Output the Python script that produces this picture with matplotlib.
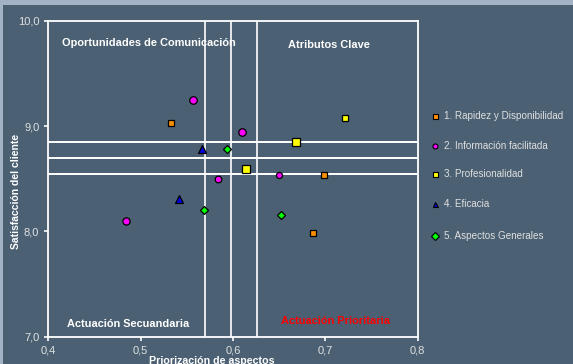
import matplotlib
matplotlib.use("Agg")
import matplotlib.pyplot as plt
from matplotlib.lines import Line2D

plt.rcParams['font.family'] = ['Liberation Sans', 'DejaVu Sans']

# Data: (priorización, satisfacción) per attribute group
series_names = ["1. Rapidez y Disponibilidad", "2. Información facilitada",
                "3. Profesionalidad", "4. Eficacia", "5. Aspectos Generales"]
rapidez_x = [0.533, 0.699, 0.687]
rapidez_y = [9.03, 8.54, 7.98]
informacion_x = [0.557, 0.610, 0.584, 0.650, 0.484]
informacion_y = [9.25, 8.94, 8.50, 8.54, 8.10]
profesionalidad_x = [0.721, 0.668, 0.614]
profesionalidad_y = [9.08, 8.85, 8.59]
eficacia_x = [0.566, 0.541]
eficacia_y = [8.78, 8.31]
generales_x = [0.594, 0.569, 0.652]
generales_y = [8.78, 8.20, 8.16]

# Reference lines (mean and band)
x_refs = [0.570, 0.598, 0.626]
y_refs = [8.85, 8.70, 8.545]

x_ticks = [0.4, 0.5, 0.6, 0.7, 0.8]
x_ticklabels = ["0,4", "0,5", "0,6", "0,7", "0,8"]
y_ticks = [7.0, 8.0, 9.0, 10.0]
y_ticklabels = ["7,0", "8,0", "9,0", "10,0"]

BG = "#4b6072"
EDGE = "#a4b2c6"
TXT = "#e0e0e0"

fig = plt.figure(figsize=(5.73, 3.64), dpi=100)
fig.patch.set_facecolor(EDGE)
fig.add_artist(plt.Rectangle((3 / 573, 0), 1, 1 - 5 / 364, transform=fig.transFigure,
                             facecolor=BG, edgecolor="none", zorder=0))

ax = fig.add_axes([0.0843, 0.075, 0.6447, 0.868])
ax.set_facecolor(BG)
ax.set_xlim(0.4, 0.8)
ax.set_ylim(7.0, 10.0)

for s in ax.spines.values():
    s.set_color("white")
    s.set_linewidth(1.3)

ax.set_xticks(x_ticks)
ax.set_xticklabels(x_ticklabels)
ax.set_yticks(y_ticks)
ax.set_yticklabels(y_ticklabels)
ax.tick_params(colors="white", labelcolor=TXT, labelsize=8, length=3, width=1.2, direction="out")

# Quadrant reference lines
for xv in x_refs:
    ax.axvline(xv, color="white", lw=1.2, zorder=1)
for yv in y_refs:
    ax.axhline(yv, color="white", lw=1.4, zorder=1)

styles = [
    dict(marker="s", color="#ff9000"),
    dict(marker="o", color="#ff00ff"),
    dict(marker="s", color="#ffff00"),
    dict(marker="^", color="#0000e0"),
    dict(marker="D", color="#00ff00"),
]
point_sizes = [
    [5.0, 4.6, 4.0],
    [5.4, 5.4, 4.8, 4.4, 5.2],
    [4.6, 5.4, 5.4],
    [5.8, 5.6],
    [4.0, 4.0, 4.0],
]
xs = [rapidez_x, informacion_x, profesionalidad_x, eficacia_x, generales_x]
ys = [rapidez_y, informacion_y, profesionalidad_y, eficacia_y, generales_y]

for st, sz, x, y in zip(styles, point_sizes, xs, ys):
    for xi, yi, si in zip(x, y, sz):
        ax.plot([xi], [yi], ls="none", marker=st["marker"], markersize=si,
                markerfacecolor=st["color"], markeredgecolor="black",
                markeredgewidth=0.9, zorder=3)

# Quadrant labels
ax.text(0.4145, 9.79, "Oportunidades de Comunicación", color="white", fontsize=7.9,
        fontweight="bold", va="center", ha="left")
ax.text(0.6595, 9.765, "Atributos Clave", color="white", fontsize=7.9,
        fontweight="bold", va="center", ha="left")
ax.text(0.420, 7.125, "Actuación Secuandaria", color="white", fontsize=7.9,
        fontweight="bold", va="center", ha="left")
ax.text(0.6525, 7.145, "Actuación Prioritaria", color="#ff0000", fontsize=7.9,
        fontweight="bold", va="center", ha="left")

# Axis titles
fig.text(16 / 573, 1 - 191 / 364, "Satisfacción del cliente", rotation=90, color="white",
         fontsize=7.5, fontweight="bold", ha="center", va="center")
fig.text(212 / 573, 1 - 361 / 364, "Priorización de aspectos", color="white",
         fontsize=7.7, fontweight="bold", ha="center", va="center")

# Legend
leg_y = [115.7, 145.7, 174.3, 204, 236]
for name, st, yp in zip(series_names, styles, leg_y):
    fig.add_artist(Line2D([434.5 / 573], [1 - yp / 364], transform=fig.transFigure,
                          ls="none", marker=st["marker"], markersize=3.6,
                          markerfacecolor=st["color"], markeredgecolor="black",
                          markeredgewidth=0.8))
    fig.text(444 / 573, 1 - yp / 364, name, color=TXT, fontsize=7.1,
             ha="left", va="center")

fig.savefig("out.png", dpi=100, facecolor=fig.get_facecolor())
